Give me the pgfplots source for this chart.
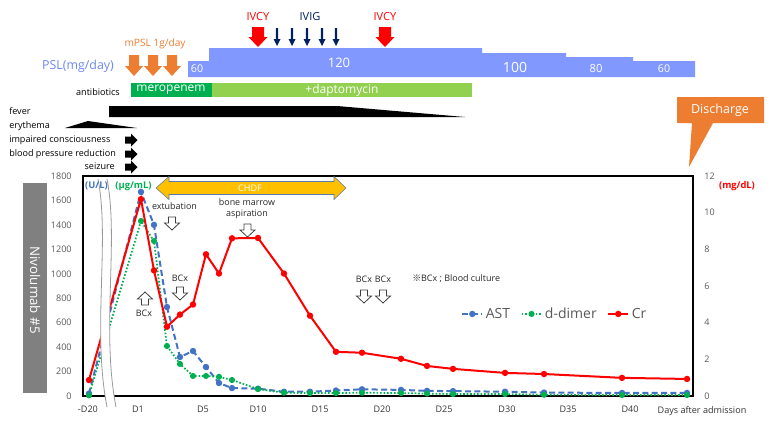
\documentclass[border=0pt]{standalone}
\usepackage{pgfplots}
\pgfplotsset{compat=1.18}
\usepackage{pgfplotstable}
\usepackage{fontspec}
\setmainfont{Open Sans}
\newfontfamily\cjk{Noto Sans CJK JP}
\definecolor{astc}{RGB}{68,114,196}
\definecolor{ddc}{RGB}{0,176,80}
\definecolor{crc}{RGB}{255,0,0}
\definecolor{pslc}{RGB}{128,152,255}
\definecolor{pslt}{RGB}{110,135,240}
\definecolor{orng}{RGB}{237,125,49}
\definecolor{navy}{RGB}{0,32,96}
\definecolor{mero}{RGB}{0,176,80}
\definecolor{dapto}{RGB}{146,208,80}
\definecolor{chdf}{RGB}{255,192,0}
\definecolor{tickg}{RGB}{89,89,89}
\definecolor{nivo}{RGB}{128,128,128}
\newcommand{\fs}[1]{\fontsize{#1}{#1}\selectfont}
% solid down arrow: color, x, top, shaft half, head half, shaft length, total length
\newcommand{\sdown}[7]{\fill[#1] ({#2-#4},#3) -- ({#2+#4},#3) -- ({#2+#4},{#3+#6}) -- ({#2+#5},{#3+#6}) -- (#2,{#3+#7}) -- ({#2-#5},{#3+#6}) -- ({#2-#4},{#3+#6}) -- cycle;}
% hollow down arrow: x, top
\newcommand{\hdown}[2]{\filldraw[fill=white,draw=black!75,line width=0.6pt] ({#1-3.5},#2) -- ({#1+3.5},#2) -- ({#1+3.5},{#2+6}) -- ({#1+7.5},{#2+6}) -- (#1,{#2+13}) -- ({#1-7.5},{#2+6}) -- ({#1-3.5},{#2+6}) -- cycle;}
% hollow up arrow: x, top
\newcommand{\hup}[2]{\filldraw[fill=white,draw=black!75,line width=0.6pt] ({#1-3.5},{#2+13}) -- ({#1+3.5},{#2+13}) -- ({#1+3.5},{#2+7}) -- ({#1+7.5},{#2+7}) -- (#1,#2) -- ({#1-7.5},{#2+7}) -- ({#1-3.5},{#2+7}) -- cycle;}
% small black right arrow: y center
\newcommand{\sright}[1]{\fill[black] (125,{#1-3.5}) -- (131,{#1-3.5}) -- (131,{#1-6.5}) -- (137.5,#1) -- (131,{#1+6.5}) -- (131,{#1+3.5}) -- (125,{#1+3.5}) -- cycle;}

\pgfplotstableread{
x   ast   dd    cr
-3  20    5     0.87
1   1670  1432  10.74
2   1400  1268  6.85
3   728   409   3.78
4   319   262   4.44
5   368   164   4.99
6   237   164   7.73
7   106   157   6.68
8   65    131   8.60
10  60    57    8.62
12  35    27    6.68
14  35    24    4.38
16  45    24    2.41
18  55    27    2.36
21  50    24    2.03
23  42    20    1.64
25  40    16    1.48
29  35    16    1.26
32  28    10    1.20
38  25    8     0.99
43  25    8     0.93
}\labdata

\begin{document}
\begin{tikzpicture}
\pgfplotsset{
  base/.style={
    at={(62.25pt,-297pt)}, anchor=south west,
    scale only axis, width=457.5pt, height=165pt,
    xmin=-3.46, xmax=43.46, ymin=0,
    major tick length=0pt,
    axis line style={line width=1.1pt},
    tick label style={font=\fs{6.8}},
    /pgf/number format/assume math mode=true,
  }
}
\begin{axis}[base, ymax=1800,
  ytick={0,200,...,1800},
  xtick={-3.08,0.77,5.77,10,14.77,19.54,24.31,29.15,33.85,38.62},
  xticklabels={-D20,D1,D5,D10,D15,D20,D25,D30,D35,D40},
  yticklabel style={text=tickg, xshift=-5pt},
  xticklabel style={text=black!80, yshift=-4pt},
  /pgf/number format/1000 sep={},
]
\addplot[astc, line width=1.5pt, dash pattern=on 4.5pt off 2.5pt, mark=*, mark size=1.6pt, mark options={solid}] table[x=x,y=ast]{\labdata};
\addplot[ddc, line width=1.3pt, dash pattern=on 1.2pt off 1.4pt, mark=*, mark size=1.6pt, mark options={solid}] table[x=x,y=dd]{\labdata};
\end{axis}
\begin{axis}[base, ymax=12,
  axis x line=none, axis y line*=right,
  ytick={0,2,...,12},
  yticklabel style={text=tickg, xshift=5pt},
  legend style={at={(0.62,0.373)}, anchor=west, draw=none, fill=none, inner sep=0pt,
    font=\fs{10.5}, text=tickg, /tikz/every even column/.append style={column sep=6pt}},
  legend columns=3,
  legend image code/.code={\draw[mark repeat=2,mark phase=2,#1] plot coordinates {(0cm,0cm) (0.26cm,0cm) (0.52cm,0cm)};},
]
\addlegendimage{astc, line width=1.5pt, dash pattern=on 4.5pt off 2.5pt, mark=*, mark size=1.6pt, mark options={solid}}
\addlegendimage{ddc, line width=1.3pt, dash pattern=on 1.2pt off 1.4pt, mark=*, mark size=1.6pt, mark options={solid}}
\addplot[crc, line width=1.5pt, mark=*, mark size=1.6pt] table[x=x,y=cr]{\labdata};
\legend{AST,d-dimer,Cr}
\end{axis}

\begin{scope}[x=0.75pt,y=-0.75pt]
% break band
\fill[white] (98,179) .. controls (110,240) and (92,330) .. (107,407) -- (116,407) .. controls (101,330) and (119,240) .. (107,179) -- cycle;
\draw[gray!80,line width=0.6pt] (98,179) .. controls (110,240) and (92,330) .. (107,407);
\draw[gray!80,line width=0.6pt] (107,179) .. controls (119,240) and (101,330) .. (116,407);
% unit labels
\node[font=\fs{7}\bfseries, text=astc] at (96.5,186) {(U/L)};
\node[font=\fs{7}\bfseries, text=ddc] at (133.5,186) {(µg/mL)};
\node[font=\fs{7}\bfseries, text=crc] at (737,186) {(mg/dL)};
% CHDF arrow
\filldraw[fill=chdf, draw=astc!60!gray, line width=0.4pt] (156,188) -- (169,176.5) -- (169,181.5) -- (334,181.5) -- (334,176.5) -- (346,188) -- (334,199.5) -- (334,194.5) -- (169,194.5) -- (169,199.5) -- cycle;
\node[font=\fs{6.8}, text=white] at (250,188) {CHDF};
% annotations
\node[font=\fs{6.7}, text=black!85] at (174.5,206) {extubation};
\hdown{172}{217}
\node[font=\fs{6.7}, text=black!85] at (180,278) {BCx};
\hdown{180}{287}
\hup{145}{292}
\node[font=\fs{6.7}, text=black!85] at (144,313) {BCx};
\node[font=\fs{6.7}, text=black!85] at (247,202) {bone marrow};
\node[font=\fs{6.7}, text=black!85] at (247,214) {aspiration};
\hdown{247.5}{224}
\node[font=\fs{6.7}, text=black!85] at (364,279) {BCx};
\node[font=\fs{6.7}, text=black!85] at (383,279) {BCx};
\hdown{364}{290}
\hdown{383}{290}
\node[font=\fs{6.7}, text=black!85, anchor=west, inner sep=0pt] at (412,279) {{\cjk ※}BCx ; Blood culture};
% x axis title
\node[font=\fs{6.8}, text=black!80] at (702,411) {Days after admission};
% Nivolumab box
\fill[nivo] (23,183) rectangle (47,393);
\node[font=\fs{10}, text=white, rotate=-90] at (35,290) {Nivolumab \#5};
% top timeline
\node[font=\fs{8.3}, text=red] at (258,17) {IVCY};
\node[font=\fs{8.3}, text=red] at (385,17) {IVCY};
\node[font=\fs{8.3}, text=navy] at (310,17) {IVIG};
\sdown{red}{258}{27}{6}{9.5}{10}{20}
\sdown{red}{385}{27}{6}{9.5}{10}{20}
\foreach \xx in {277,292,307,322,336} {\sdown{navy}{\xx}{28}{1.1}{3.5}{11}{18}}
\fill[pslc] (188,61) -- (209,61) -- (209,48) -- (482,48) -- (482,53) -- (566,53) -- (566,57) -- (633,57) -- (633,61) -- (695,61) -- (695,77) -- (188,77) -- cycle;
\node[font=\fs{8}, text=white] at (197,69) {60};
\node[font=\fs{9.8}, text=white] at (339,63) {120};
\node[font=\fs{10.5}, text=white] at (515,67) {100};
\node[font=\fs{8.4}, text=white] at (596,68) {80};
\node[font=\fs{8}, text=white] at (664,69) {60};
\node[font=\fs{9.3}, text=pslt] at (78,66) {PSL(mg/day)};
\node[font=\fs{7.6}, text=orng] at (155,44) {mPSL 1g/day};
\foreach \xx in {134,153,172} {\sdown{orng}{\xx}{55}{5}{9}{11}{21}}
\node[font=\fs{6.8}, anchor=east, inner sep=0pt] at (120,92) {antibiotics};
\fill[mero] (131,83) rectangle (212,97);
\fill[dapto] (212,83) rectangle (472,97);
\node[font=\fs{9}, text=white] at (171,90) {meropenem};
\node[font=\fs{9}, text=white] at (342,90) {+daptomycin};
\fill[black] (109,106) -- (337,106) -- (465,117) -- (109,117) -- cycle;
\fill[black] (65,128) -- (88,121) -- (137,128) -- cycle;
\sright{140}
\sright{154}
\sright{167}
\node[font=\fs{6.8}, anchor=west, inner sep=0pt] at (9,111) {fever};
\node[font=\fs{6.8}, anchor=west, inner sep=0pt] at (9,126) {erythema};
\node[font=\fs{6.8}, anchor=west, inner sep=0pt] at (9,140) {impaired consciousness};
\node[font=\fs{6.8}, anchor=west, inner sep=0pt] at (9,154) {blood pressure reduction};
\node[font=\fs{6.8}, anchor=east, inner sep=0pt] at (115,166) {seizure};
% Discharge callout
\fill[orng] (677,97) -- (764,97) -- (764,123) -- (713,123) -- (689,167) -- (692,123) -- (677,123) -- cycle;
\node[font=\fs{9.4}, text=white] at (720,110) {Discharge};
\end{scope}
\pgfresetboundingbox
\path[use as bounding box] (0pt,0pt) rectangle (581.25pt,-318.75pt);
\end{tikzpicture}
\end{document}
